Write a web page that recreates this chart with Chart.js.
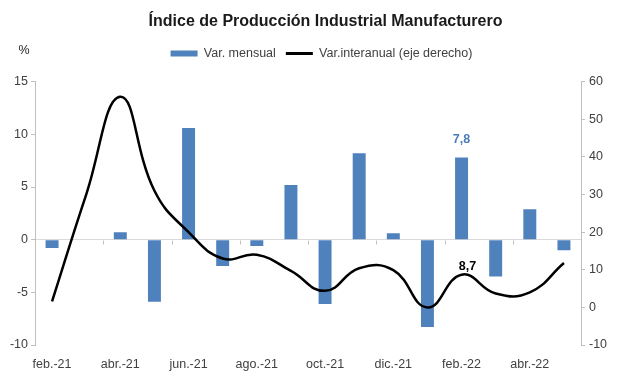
<!DOCTYPE html>
<html>
<head>
<meta charset="utf-8">
<script src="https://cdn.jsdelivr.net/npm/chart.js@4.4.0/dist/chart.umd.min.js"></script>
<style>
  html, body { margin: 0; padding: 0; background: #fff; }
  #wrap { width: 617px; height: 392px; }
</style>
</head>
<body>
<div id="wrap"><canvas id="chartIPI"></canvas></div>
<script>
// Datos
const meses = ['feb.-21', 'mar.-21', 'abr.-21', 'may.-21', 'jun.-21', 'jul.-21', 'ago.-21', 'sep.-21',
  'oct.-21', 'nov.-21', 'dic.-21', 'ene.-22', 'feb.-22', 'mar.-22', 'abr.-22', 'may.-22'];
const varMensual = [-0.8, 0.0, 0.7, -5.9, 10.6, -2.5, -0.6, 5.2, -6.1, 8.2, 0.6, -8.3, 7.8, -3.5, 2.9, -1.0];
const varInteranual = [1.6, 30.0, 56.0, 31.0, 20.0, 13.0, 14.0, 9.7, 4.4, 10.4, 9.9, 0.0, 8.7, 3.7, 4.0, 11.8];
const ticksIzq = [-10, -5, 0, 5, 10, 15];
const ticksDer = [-10, 0, 10, 20, 30, 40, 50, 60];
// serie 0 = linea, serie 1 = barras
const etiquetas = [{ serie: 1, idx: 12, texto: '7,8', color: '#4a7ebb' }, { serie: 0, idx: 12, texto: '8,7', color: '#000' }];

const azul = '#4f81bd';
const gris = '#bfbfbf';
const textoGris = '#404040';
const fuente = '"Liberation Sans", Arial, sans-serif';
Chart.defaults.font.family = fuente;

// espacio extra debajo de la leyenda y desplazamiento de titulo/leyenda
const margenLeyenda = {
  id: 'margenLeyenda',
  beforeInit(chart) {
    const fitOrig = chart.legend.fit;
    chart.legend.fit = function () {
      fitOrig.bind(chart.legend)();
      this.height += 12;
    };
  },
  afterLayout(chart) {
    chart.titleBlock.left += 17;
    chart.titleBlock.right += 17;
    chart.legend.left += 13;
    chart.legend.right += 13;
  }
};

// Etiquetas de valor, simbolo % y marcas del eje de categorias
const extras = {
  id: 'extras',
  afterDatasetsDraw(chart) {
    const ctx = chart.ctx;
    ctx.save();
    ctx.font = 'bold 12.5px ' + fuente;
    ctx.textAlign = 'center';
    ctx.textBaseline = 'bottom';
    etiquetas.forEach((e) => {
      const el = chart.getDatasetMeta(e.serie).data[e.idx];
      ctx.fillStyle = e.color;
      ctx.fillText(e.texto, el.x + (e.serie === 0 ? 6 : 0), el.y - (e.serie === 1 ? 12 : 2));
    });

    // marcas pequeñas sobre la linea de cero
    const x = chart.scales.x;
    const y0 = Math.round(chart.scales.y.getPixelForValue(0)) + 0.5;
    ctx.strokeStyle = gris;
    ctx.lineWidth = 1;
    for (let i = 2; i < meses.length; i += 2) {
      const px = Math.round((x.getPixelForValue(i - 1) + x.getPixelForValue(i)) / 2) + 0.5;
      ctx.beginPath();
      ctx.moveTo(px, y0);
      ctx.lineTo(px, y0 + 4);
      ctx.stroke();
    }

    ctx.font = '12.5px ' + fuente;
    ctx.fillStyle = '#222';
    ctx.textBaseline = 'middle';
    ctx.fillText('%', chart.scales.y.left + 24, 51);
    ctx.restore();
  }
};

const ctx = document.getElementById('chartIPI').getContext('2d');
const grafico = new Chart(ctx, {
  type: 'bar',
  data: {
    labels: meses,
    datasets: [
      {
        type: 'line',
        label: 'Var.interanual (eje derecho)',
        data: varInteranual,
        yAxisID: 'y2',
        borderColor: '#000',
        borderWidth: 2.5,
        pointRadius: 0,
        tension: 0.45,
        fill: false,
        order: 0
      },
      {
        type: 'bar',
        label: 'Var. mensual',
        data: varMensual,
        yAxisID: 'y',
        backgroundColor: azul,
        categoryPercentage: 1,
        barPercentage: 0.38,
        order: 1
      }
    ]
  },
  plugins: [margenLeyenda, extras],
  options: {
    responsive: true,
    maintainAspectRatio: false,
    animation: false,
    layout: { padding: { top: 0, bottom: 16, left: 0, right: 0 } },
    plugins: {
      title: {
        display: true,
        text: 'Índice de Producción Industrial Manufacturero',
        color: '#1a1a1a',
        font: { size: 16, weight: 'bold' },
        padding: { top: 12, bottom: 6 }
      },
      legend: {
        position: 'top',
        reverse: true,
        labels: {
          color: textoGris,
          font: { size: 12.5 },
          usePointStyle: true,
          pointStyleWidth: 27,
          boxHeight: 6,
          padding: 10,
          generateLabels(chart) {
            return chart.data.datasets.map((ds, i) => ({
              text: ds.label,
              datasetIndex: i,
              fillStyle: ds.type === 'line' ? '#000' : azul,
              strokeStyle: ds.type === 'line' ? '#000' : azul,
              lineWidth: ds.type === 'line' ? 3 : 0,
              pointStyle: ds.type === 'line' ? 'line' : 'rect',
              fontColor: textoGris
            }));
          }
        }
      },
      tooltip: { enabled: false }
    },
    scales: {
      x: {
        grid: { display: false },
        border: { display: false },
        ticks: {
          autoSkip: false,
          maxRotation: 0,
          color: textoGris,
          font: { size: 12.5 },
          padding: 4,
          callback: (v, i) => (i % 2 === 0 ? meses[i] : '')
        }
      },
      y: {
        position: 'left',
        min: -10,
        max: 15,
        afterBuildTicks: (s) => { s.ticks = ticksIzq.map((v) => ({ value: v })); },
        afterFit: (s) => { s.width = 35; },
        border: { display: true, color: gris },
        grid: {
          drawTicks: true,
          tickLength: 4,
          tickColor: gris,
          color: (c) => (c.tick && c.tick.value === 0 ? '#d9d9d9' : 'rgba(0,0,0,0)')
        },
        ticks: { color: textoGris, font: { size: 12.5 }, padding: 3 }
      },
      y2: {
        position: 'right',
        min: -10,
        max: 60,
        afterBuildTicks: (s) => { s.ticks = ticksDer.map((v) => ({ value: v })); },
        afterFit: (s) => { s.width = 36; },
        border: { display: true, color: gris },
        grid: { drawOnChartArea: false, drawTicks: true, tickLength: 4, tickColor: gris },
        ticks: { color: textoGris, font: { size: 12.5 }, padding: 4 }
      }
    }
  }
});
</script>
</body>
</html>
